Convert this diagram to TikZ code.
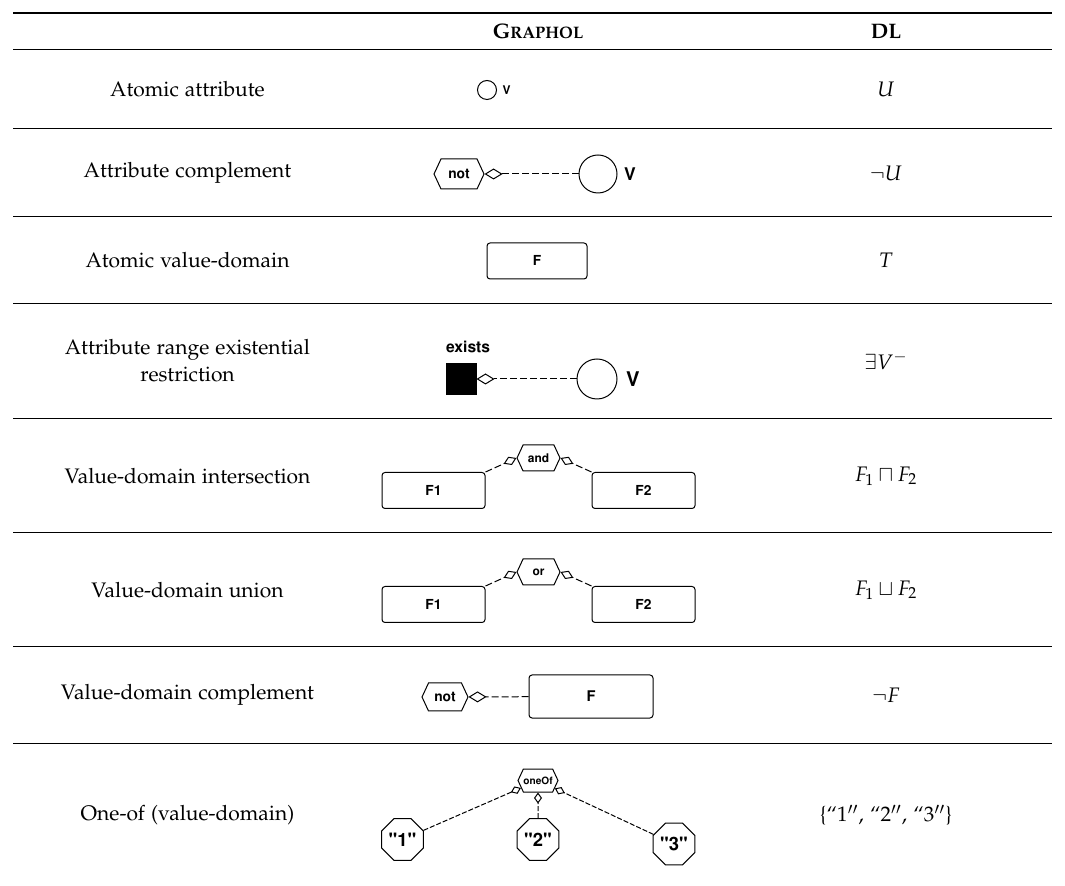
\documentclass[tikz,border=0pt]{standalone}
\usepackage[T1]{fontenc}
\usepackage[sc]{mathpazo}
\usepackage[scaled=0.92]{helvet}
\usetikzlibrary{arrows.meta,
                positioning,
                shapes.geometric,
                shapes.symbols}

\begin{document}
\begin{tikzpicture}[
        x=0.5pt, y=-0.5pt,
        line width=0.5pt,
        rule/.style={line width=0.5pt},
        top rule/.style={line width=0.9pt},
        main text/.style={font=\fontsize{10.5}{13.5}\selectfont, align=center},
        head text/.style={font=\fontsize{10.5}{13.5}\selectfont\bfseries},
        attr node/.style={circle, draw, inner sep=0pt, minimum size=#1},
        domain node/.style={rectangle, draw, rounded corners=1.5pt, inner sep=0pt,
                            font=\sffamily\bfseries\fontsize{7.5}{9}\selectfont},
        op node/.style={signal, signal to=east and west, signal pointer angle=130,
                        draw, inner sep=0pt, font=\sffamily\bfseries\fontsize{#1}{9}\selectfont},
        value node/.style={regular polygon, regular polygon sides=8, draw, inner sep=0pt,
                           minimum size=22.5pt, font=\sffamily\bfseries\fontsize{10}{12}\selectfont},
        exists node/.style={rectangle, draw, fill=black, minimum width=15pt,
                            minimum height=15.5pt, inner sep=0pt},
        input/.style={dash pattern=on 3.5pt off 1.5pt, -{Diamond[open, length=9pt, width=5.5pt]}},
        small input/.style={dash pattern=on 3.5pt off 1.5pt, -{Diamond[open, length=7pt, width=4.5pt]}},
        tiny input/.style={dash pattern=on 2.5pt off 1pt, -{Diamond[open, length=5.5pt, width=4pt]}},
        name label/.style={font=\sffamily\bfseries\fontsize{#1}{12}\selectfont, inner sep=0pt}
        ]
  \useasboundingbox (0,0) rectangle (1065,886);

  % rules of the table
  \draw[top rule] (13,13) -- (1052,13);
  \foreach \ry in {50,129,217,304,419,533,647,743}
    \draw[rule] (13,\ry) -- (1052,\ry);

  % header
  \node[head text] (hgraphol) at (538,31.5) {G{\fontsize{8.3}{10}\selectfont RAPHOL}};
  \node[head text] (hdl) at (886,31.5) {DL};

  % first column
  \node[main text] (lbl1) at (187.5,89.5) {Atomic attribute};
  \node[main text] (lbl2) at (187.5,173) {Attribute complement};
  \node[main text] (lbl3) at (187.5,260.5) {Atomic value-domain};
  \node[main text] (lbl4) at (187.5,361) {Attribute range existential\\restriction};
  \node[main text] (lbl5) at (187.5,476) {Value-domain intersection};
  \node[main text] (lbl6) at (187.5,590) {Value-domain union};
  \node[main text] (lbl7) at (187.5,695) {Value-domain complement};
  \node[main text] (lbl8) at (187.5,815) {One-of (value-domain)};

  % graphol: atomic attribute
  \node[attr node=9.5pt] (attr1) at (487,90) {};
  \node[name label=6.5, right=2.5pt of attr1] (v1lbl) {V};

  % graphol: attribute complement
  \node[op node=7.5, minimum width=25pt, minimum height=15pt] (not2) at (459,174) {not};
  \node[attr node=19pt] (attr2) at (598,174) {};
  \node[name label=9.5, right=3pt of attr2] (v2lbl) {V};
  \draw[input] (attr2) -- (not2);

  % graphol: atomic value-domain
  \node[domain node, minimum width=50pt, minimum height=18pt] (dom3) at (537,261) {F};

  % graphol: existential restriction
  \node[exists node] (exists4) at (461,379) {};
  \node[name label=8.5, above=5pt of exists4.north west, anchor=south west] (exlbl) {exists};
  \node[attr node=20pt] (attr4) at (597,379) {};
  \node[name label=11, right=4pt of attr4] (v4lbl) {V};
  \draw[input] (attr4) -- (exists4);

  % graphol: intersection
  \node[domain node, minimum width=51.5pt, minimum height=18pt] (f1and) at (433.5,490.5) {F1};
  \node[domain node, minimum width=51.5pt, minimum height=18pt] (f2and) at (643.5,490.5) {F2};
  \node[op node=6.5, minimum width=21.5pt, minimum height=13pt] (and5) at (538.5,458) {and};
  \draw[small input] (f1and.north east) -- (and5.west);
  \draw[small input] (f2and.north west) -- (and5.east);

  % graphol: union
  \node[domain node, minimum width=51.5pt, minimum height=18pt] (f1or) at (433.5,604.5) {F1};
  \node[domain node, minimum width=51.5pt, minimum height=18pt] (f2or) at (643.5,604.5) {F2};
  \node[op node=6.5, minimum width=21.5pt, minimum height=13pt] (or6) at (538.5,572) {or};
  \draw[small input] (f1or.north east) -- (or6.west);
  \draw[small input] (f2or.north west) -- (or6.east);

  % graphol: value-domain complement
  \node[op node=7.5, minimum width=23pt, minimum height=14pt] (not7) at (445,697) {not};
  \node[domain node, minimum width=62pt, minimum height=21.5pt,
        font=\sffamily\bfseries\fontsize{8}{9}\selectfont] (dom7) at (591,696.5) {F};
  \draw[input] (dom7) -- (not7);

  % graphol: one-of
  \node[op node=5.5, minimum width=19pt, minimum height=11.5pt] (oneof) at (538,780.5) {oneOf};
  \node[value node] (val1) at (402.5,839.5) {"1"};
  \node[value node] (val2) at (538,839.5) {"2"};
  \node[value node] (val3) at (674,844) {"3"};
  \draw[tiny input] (val1) -- (oneof);
  \draw[tiny input] (val2) -- (oneof);
  \draw[tiny input] (val3) -- (oneof);

  % DL column
  \node[main text] (dl1) at (886,89.5) {$U$};
  \node[main text] (dl2) at (886,173) {$\neg U$};
  \node[main text] (dl3) at (886,260.5) {$T$};
  \node[main text] (dl4) at (886,361) {$\exists V^{-}$};
  \node[main text] (dl5) at (886,476) {$F_1 \sqcap F_2$};
  \node[main text] (dl6) at (886,590) {$F_1 \sqcup F_2$};
  \node[main text] (dl7) at (886,695) {$\neg F$};
  \node[main text] (dl8) at (886,815) {\{``1$''$, ``2$''$, ``3$''$\}};
\end{tikzpicture}
\end{document}
